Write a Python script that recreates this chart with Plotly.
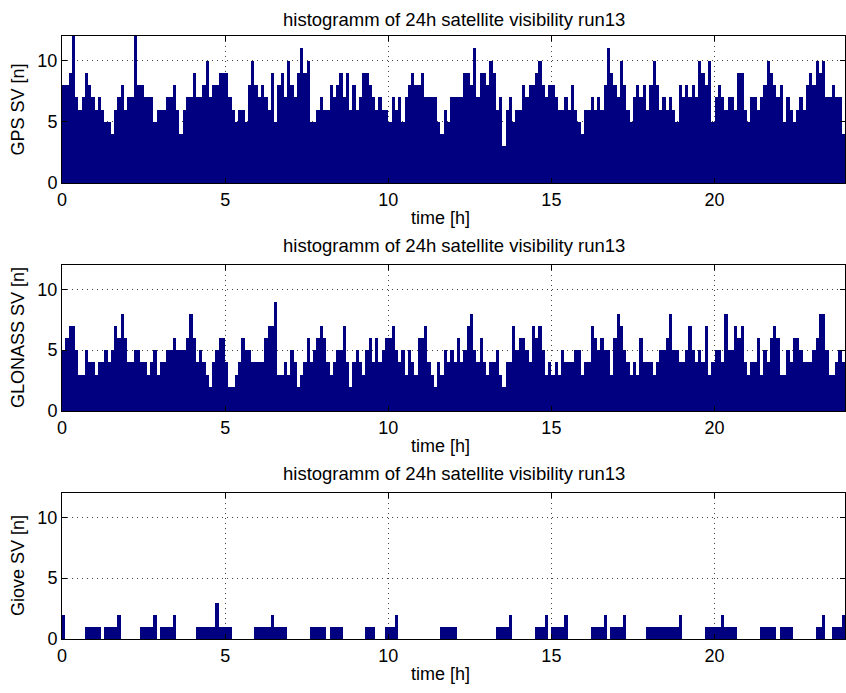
import numpy as np
import plotly.graph_objects as go

# satellites in view, 0.1 h bins over 24 h
gps_sv = [
    8, 8, 9, 12, 7, 6, 7, 9, 8, 7,
    6, 7, 6, 5, 5, 4, 6, 7, 8, 6,
    7, 7, 12, 8, 8, 7, 7, 7, 5, 6,
    6, 6, 7, 7, 8, 6, 4, 6, 7, 7,
    9, 7, 7, 8, 10, 7, 8, 8, 9, 9,
    9, 7, 6, 5, 6, 6, 5, 8, 10, 8,
    7, 8, 7, 6, 9, 5, 8, 9, 7, 10,
    8, 7, 9, 11, 9, 10, 5, 5, 6, 7,
    6, 6, 8, 7, 8, 9, 7, 9, 6, 8,
    6, 7, 9, 9, 8, 7, 6, 7, 6, 6,
    5, 7, 6, 7, 5, 7, 8, 9, 8, 8,
    9, 7, 7, 7, 7, 5, 4, 6, 5, 7,
    7, 7, 7, 9, 9, 8, 11, 7, 9, 9,
    8, 10, 9, 6, 7, 3, 6, 7, 5, 6,
    6, 8, 7, 8, 8, 9, 10, 8, 7, 8,
    8, 7, 6, 6, 7, 6, 8, 6, 5, 4,
    6, 6, 7, 6, 7, 6, 8, 11, 9, 8,
    7, 10, 8, 6, 5, 7, 8, 7, 8, 6,
    8, 10, 8, 6, 7, 6, 7, 6, 5, 8,
    7, 8, 7, 8, 7, 10, 9, 8, 10, 5,
    7, 8, 7, 6, 7, 7, 6, 9, 9, 6,
    5, 7, 7, 6, 7, 8, 10, 9, 8, 7,
    8, 5, 7, 6, 5, 6, 7, 6, 8, 9,
    8, 10, 9, 10, 7, 7, 8, 7, 7, 4,
]

glonass_sv = [
    5, 6, 7, 7, 5, 3, 3, 5, 4, 4,
    3, 4, 4, 5, 4, 5, 7, 6, 8, 6,
    4, 4, 5, 5, 4, 4, 3, 4, 5, 3,
    4, 4, 5, 5, 6, 5, 5, 5, 6, 8,
    6, 4, 5, 4, 3, 2, 4, 5, 6, 6,
    4, 2, 2, 3, 4, 6, 5, 5, 4, 4,
    4, 4, 6, 7, 7, 9, 3, 3, 4, 3,
    5, 4, 2, 3, 4, 6, 4, 5, 6, 7,
    6, 4, 3, 4, 5, 5, 7, 4, 2, 4,
    5, 4, 3, 5, 6, 4, 6, 4, 5, 6,
    6, 7, 5, 4, 5, 3, 5, 4, 3, 6,
    6, 7, 4, 3, 2, 4, 3, 5, 4, 5,
    4, 6, 4, 5, 7, 8, 5, 4, 6, 4,
    3, 4, 4, 5, 3, 2, 4, 4, 7, 5,
    6, 6, 5, 4, 7, 6, 7, 5, 3, 4,
    3, 4, 3, 5, 4, 4, 4, 5, 5, 3,
    4, 4, 7, 6, 5, 6, 5, 5, 3, 6,
    8, 7, 5, 4, 3, 4, 3, 6, 4, 4,
    4, 3, 4, 5, 5, 6, 8, 5, 5, 4,
    4, 5, 7, 5, 4, 5, 4, 7, 3, 4,
    5, 5, 4, 8, 5, 5, 7, 6, 7, 4,
    3, 4, 4, 6, 3, 5, 4, 6, 7, 6,
    3, 3, 5, 4, 6, 6, 5, 4, 4, 4,
    5, 6, 8, 8, 5, 3, 3, 4, 5, 4,
]

giove_sv = [
    2, 0, 0, 0, 0, 0, 0, 1, 1, 1,
    1, 1, 0, 1, 1, 1, 1, 2, 0, 0,
    0, 0, 0, 0, 1, 1, 1, 1, 2, 0,
    1, 1, 1, 1, 2, 0, 0, 0, 0, 0,
    0, 1, 1, 1, 1, 1, 1, 3, 1, 1,
    1, 1, 0, 0, 0, 0, 0, 0, 0, 1,
    1, 1, 1, 1, 2, 1, 1, 1, 1, 0,
    0, 0, 0, 0, 0, 0, 1, 1, 1, 1,
    1, 0, 1, 1, 1, 1, 0, 0, 0, 0,
    0, 0, 0, 1, 1, 1, 0, 0, 0, 1,
    1, 1, 2, 0, 0, 0, 0, 0, 0, 0,
    0, 0, 0, 0, 0, 0, 1, 1, 1, 1,
    1, 0, 0, 0, 0, 0, 0, 0, 0, 0,
    0, 0, 0, 1, 1, 1, 1, 2, 0, 0,
    0, 0, 0, 0, 0, 1, 1, 1, 2, 0,
    1, 1, 1, 1, 2, 0, 0, 0, 0, 0,
    0, 0, 1, 1, 1, 1, 2, 0, 1, 1,
    1, 1, 2, 0, 0, 0, 0, 0, 0, 1,
    1, 1, 1, 1, 1, 1, 1, 1, 1, 2,
    0, 0, 0, 0, 0, 0, 0, 1, 1, 1,
    1, 1, 2, 1, 1, 1, 1, 0, 0, 0,
    0, 0, 0, 0, 1, 1, 1, 1, 1, 0,
    1, 1, 1, 1, 0, 0, 0, 0, 0, 0,
    0, 1, 1, 2, 0, 0, 1, 1, 1, 2,
]

bin_h = 0.1
t = np.arange(len(gps_sv)) * bin_h + bin_h / 2   # bin centres [h]

panels = [
    (gps_sv, "GPS SV [n]", [0.7359, 0.9481], 20),
    (glonass_sv, "GLONASS SV [n]", [0.4069, 0.6176], 246),
    (giove_sv, "Giove SV [n]", [0.0779, 0.2886], 473),
]

FONT = "Liberation Sans, Arial, sans-serif"
H = 693
FS = 18

fig = go.Figure()
annos = []
for i, (vals, ylab, dom, ytitle) in enumerate(panels):
    n = "" if i == 0 else str(i + 1)
    fig.add_trace(go.Bar(x=t, y=vals, width=bin_h,
                         marker=dict(color="#000080", line=dict(width=0)),
                         xaxis="x" + n, yaxis="y" + n, showlegend=False))
    common = dict(showgrid=True, gridcolor="#444", griddash="1px,4px", gridwidth=1,
                  showline=True, linecolor="black", linewidth=1, mirror="ticks",
                  ticks="inside", ticklen=5, tickcolor="black", zeroline=False,
                  automargin=False, tickfont=dict(size=FS, color="black"))
    ax = dict(domain=[0, 1], range=[0, 24], tickvals=[0, 5, 10, 15, 20],
              anchor="y" + n, **common)
    ay = dict(domain=dom, range=[0, 12], tickvals=[0, 5, 10],
              anchor="x" + n, **common)
    fig.update_layout({"xaxis" + n: ax, "yaxis" + n: ay})
    # title, x label, y label
    annos.append(dict(text="histogramm of 24h satellite visibility run13",
                      x=0.5, y=1 - ytitle / H, xref="paper", yref="paper",
                      xanchor="center", yanchor="middle",
                      showarrow=False, font=dict(size=18.5, color="black")))
    ybot = (1 - dom[0]) * H
    annos.append(dict(text="time [h]", x=(440 - 62) / 783, y=1 - (ybot + 35) / H,
                      xref="paper", yref="paper", xanchor="center", yanchor="middle",
                      showarrow=False, font=dict(size=FS, color="black")))
    annos.append(dict(text=ylab, x=(18 - 62) / 783, y=(dom[0] + dom[1]) / 2,
                      xref="paper", yref="paper", xanchor="center", yanchor="middle",
                      showarrow=False, textangle=-90,
                      font=dict(size=FS, color="black")))

fig.update_layout(width=846, height=693, bargap=0,
                  margin=dict(l=62, r=1, t=0, b=0, autoexpand=False),
                  plot_bgcolor="white", paper_bgcolor="white",
                  font=dict(family=FONT, color="black"),
                  annotations=annos)

fig.write_html("out.html", config={"displayModeBar": False},
               post_script="document.body.style.margin='0';")
